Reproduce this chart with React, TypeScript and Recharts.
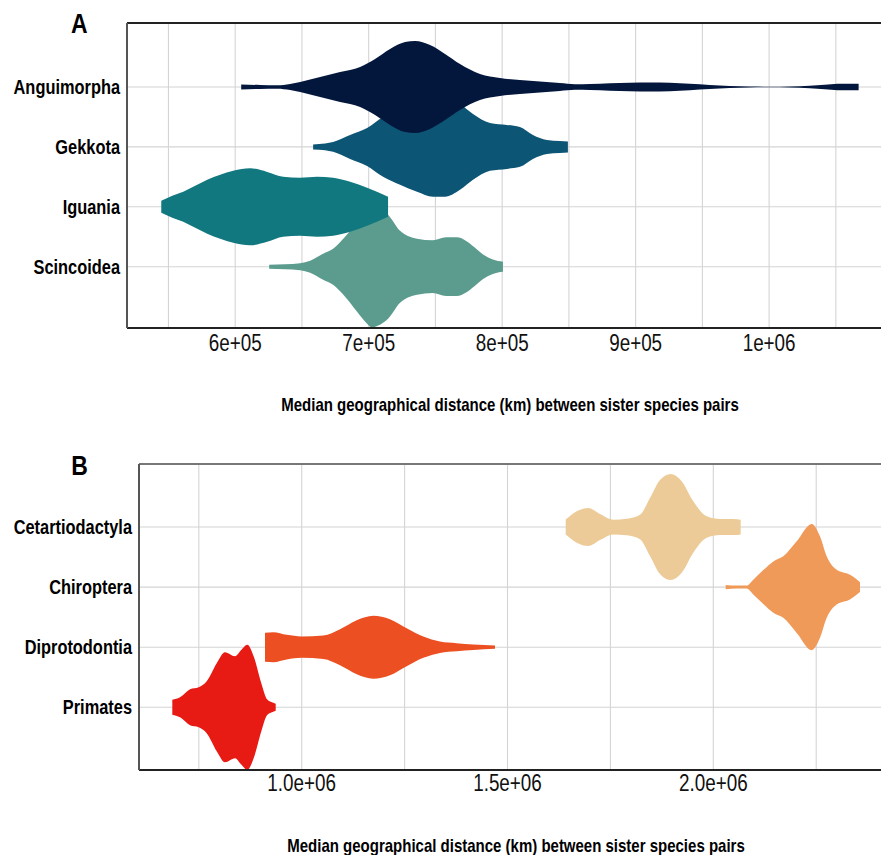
import React from 'react';
import { ComposedChart, Area, XAxis, YAxis, CartesianGrid, ReferenceLine } from 'recharts';

const FONT = '"Liberation Sans", Arial, sans-serif';
const NARROW = 0.82; // horizontal condensing to imitate Arial Narrow
const AXIS_TITLE = 'Median geographical distance (km) between sister species pairs';

// ---------- Panel A (lizards) ----------
const lizardGroups = ['Anguimorpha', 'Gekkota', 'Iguania', 'Scincoidea']; // top to bottom
const lizardColors = ['#03173d', '#0d5575', '#117880', '#5b9c8e'];

const anguimorphaX = [604491, 618713, 631437, 641168, 648653, 663623, 678593, 693563, 704790, 716018, 727245, 734730, 745958, 757185, 768413, 783383, 798353, 813323, 828293, 843263, 854490, 865718, 880688, 895658, 910628, 925598, 940568, 955538, 970508, 985478, 1000448, 1015418, 1030388, 1041615, 1051346, 1060328, 1067064];
const anguimorphaW = [0.042, 0.033, 0.028, 0.05, 0.083, 0.167, 0.25, 0.333, 0.467, 0.633, 0.75, 0.767, 0.7, 0.55, 0.383, 0.217, 0.15, 0.117, 0.092, 0.067, 0.047, 0.05, 0.063, 0.072, 0.075, 0.07, 0.053, 0.033, 0.015, 0.007, 0.005, 0.008, 0.02, 0.037, 0.053, 0.055, 0.053];

const gekkotaX = [658383, 667365, 673353, 686078, 698802, 710778, 723503, 736227, 748203, 757185, 768413, 778143, 790868, 803592, 813323, 823053, 833532, 843263, 849251];
const gekkotaW = [0.042, 0.058, 0.083, 0.2, 0.317, 0.5, 0.633, 0.75, 0.833, 0.833, 0.717, 0.55, 0.4, 0.367, 0.333, 0.2, 0.117, 0.1, 0.092];

const iguaniaX = [544611, 552845, 561078, 570060, 579042, 588773, 598503, 611228, 623952, 635928, 648653, 661377, 673353, 686078, 698802, 707036, 714521];
const iguaniaW = [0.1, 0.183, 0.25, 0.35, 0.45, 0.533, 0.6, 0.642, 0.583, 0.5, 0.483, 0.5, 0.483, 0.417, 0.317, 0.242, 0.167];

const scincoideaX = [625449, 637425, 648653, 656138, 665868, 673353, 682335, 691317, 698802, 702545, 707036, 714521, 723503, 736227, 748000, 758000, 766000, 773000, 779000, 786000, 793000, 800598];
const scincoideaW = [0.033, 0.042, 0.058, 0.1, 0.217, 0.3, 0.5, 0.75, 0.95, 1.017, 0.983, 0.867, 0.6, 0.467, 0.44, 0.49, 0.49, 0.43, 0.33, 0.2, 0.12, 0.083];

const lizardTicks = [600000, 700000, 800000, 900000, 1000000];
const lizardTickLabels = ['6e+05', '7e+05', '8e+05', '9e+05', '1e+06'];
const lizardMinor = [550000, 650000, 750000, 850000, 950000, 1050000];
const lizardDomainX = [518937, 1092814];
const lizardDomainY = [-0.023, 5.068];

// ---------- Panel B (mammals) ----------
const mammalGroups = ['Cetartiodactyla', 'Chiroptera', 'Diprotodontia', 'Primates']; // top to bottom
const mammalColors = ['#edcb98', '#f09a5a', '#ec5022', '#e81a14'];

const cetartiodactylaX = [1641388, 1668112, 1696294, 1724719, 1757031, 1789588, 1821900, 1846195, 1870490, 1896486, 1923210, 1951392, 1983947, 2016260, 2048572, 2066551];
const cetartiodactylaW = [0.125, 0.262, 0.317, 0.217, 0.122, 0.138, 0.205, 0.483, 0.783, 0.883, 0.762, 0.428, 0.178, 0.133, 0.133, 0.122];

const chiropteraX = [2030100, 2056824, 2081119, 2097153, 2121448, 2145743, 2170038, 2202593, 2239035, 2259210, 2275488, 2299783, 2332095, 2356390];
const chiropteraW = [0.037, 0.025, 0.025, 0.122, 0.283, 0.428, 0.512, 0.762, 1.05, 0.845, 0.512, 0.288, 0.205, 0.083];

const diprotodontiaX = [910838, 931000, 963557, 1000000, 1052477, 1093050, 1133622, 1173951, 1214525, 1255098, 1295427, 1336000, 1376573, 1416902, 1469617];
const diprotodontiaW = [0.242, 0.25, 0.205, 0.178, 0.195, 0.3, 0.45, 0.525, 0.467, 0.317, 0.178, 0.095, 0.067, 0.045, 0.028];

const primatesX = [685623, 704330, 728625, 749761, 769197, 793492, 813657, 837952, 852529, 867835, 884113, 901119, 915696, 927844, 936833];
const primatesW = [0.125, 0.167, 0.3, 0.333, 0.433, 0.733, 0.917, 0.85, 0.95, 1.042, 0.833, 0.417, 0.133, 0.083, 0.058];

const mammalTicks = [1000000, 1500000, 2000000];
const mammalTickLabels = ['1.0e+06', '1.5e+06', '2.0e+06'];
const mammalMinor = [750000, 1250000, 1750000, 2250000];
const mammalDomainX = [604713, 2436581];
const mammalDomainY = [-0.045, 5.05];

type Violin = { name: string; color: string; xs: number[]; ws: number[] };

const lizardViolins: Violin[] = [
  { name: lizardGroups[0], color: lizardColors[0], xs: anguimorphaX, ws: anguimorphaW },
  { name: lizardGroups[1], color: lizardColors[1], xs: gekkotaX, ws: gekkotaW },
  { name: lizardGroups[2], color: lizardColors[2], xs: iguaniaX, ws: iguaniaW },
  { name: lizardGroups[3], color: lizardColors[3], xs: scincoideaX, ws: scincoideaW },
];

const mammalViolins: Violin[] = [
  { name: mammalGroups[0], color: mammalColors[0], xs: cetartiodactylaX, ws: cetartiodactylaW },
  { name: mammalGroups[1], color: mammalColors[1], xs: chiropteraX, ws: chiropteraW },
  { name: mammalGroups[2], color: mammalColors[2], xs: diprotodontiaX, ws: diprotodontiaW },
  { name: mammalGroups[3], color: mammalColors[3], xs: primatesX, ws: primatesW },
];

function buildRows(v: Violin, center: number) {
  return v.xs.map((x, i) => ({ x, r: [center - v.ws[i], center + v.ws[i]] }));
}

function NarrowText(props: {
  x: number;
  y: number;
  text: string;
  anchor: 'start' | 'middle' | 'end';
  dy?: string;
  size: number;
  bold?: boolean;
  fill?: string;
}) {
  return (
    <g transform={`translate(${props.x},${props.y})`}>
      <text
        x={0}
        y={0}
        dy={props.dy}
        textAnchor={props.anchor}
        transform={`scale(${NARROW},1)`}
        fontFamily={FONT}
        fontSize={props.size}
        fontWeight={props.bold ? 'bold' : 'normal'}
        fill={props.fill || '#000'}
      >
        {props.text}
      </text>
    </g>
  );
}

type PanelProps = {
  violins: Violin[];
  groups: string[];
  ticks: number[];
  tickLabels: string[];
  minor: number[];
  domainX: number[];
  domainY: number[];
  height: number;
  marginTop: number;
  yAxisWidth: number;
  xAxisHeight: number;
  tickMargin: number;
  topStroke: string;
};

function Panel(p: PanelProps) {
  const n = p.groups.length;
  const yTicks = p.groups.map((_, i) => n - i);
  const xLabel = (v: number) => {
    const i = p.ticks.indexOf(v);
    return i >= 0 ? p.tickLabels[i] : String(v);
  };
  // draw bottom group first so that upper groups overlap lower ones
  const order = p.violins.map((v, i) => ({ v, center: n - i })).reverse();
  const gridX = [...p.ticks, ...p.minor].sort((a, b) => a - b);
  return (
    <ComposedChart
      width={893}
      height={p.height}
      margin={{ top: p.marginTop, right: 0, bottom: 0, left: 0 }}
    >
      <CartesianGrid
        stroke="#d4d4d4"
        strokeWidth={1.1}
        verticalValues={gridX}
        horizontalValues={yTicks}
      />
      <XAxis
        dataKey="x"
        type="number"
        domain={p.domainX}
        allowDataOverflow
        ticks={p.ticks}
        tickLine={false}
        tickSize={0}
        tickMargin={p.tickMargin}
        height={p.xAxisHeight}
        axisLine={{ stroke: '#222', strokeWidth: 2 }}
        tick={(t: any) => (
          <NarrowText x={t.x} y={t.y} text={xLabel(t.payload.value)} anchor="middle" dy="0.71em" size={23} fill="#111" />
        )}
      />
      <YAxis
        type="number"
        domain={p.domainY}
        allowDataOverflow
        ticks={yTicks}
        tickLine={false}
        tickSize={0}
        tickMargin={7}
        width={p.yAxisWidth}
        axisLine={{ stroke: '#555', strokeWidth: 2 }}
        tick={(t: any) => (
          <NarrowText x={t.x} y={t.y} text={p.groups[n - t.payload.value]} anchor="end" dy="0.355em" size={20} bold />
        )}
      />
      {order.map(({ v, center }) => (
        <Area
          key={v.name}
          name={v.name}
          data={buildRows(v, center)}
          dataKey="r"
          type="monotone"
          fill={v.color}
          fillOpacity={1}
          stroke="none"
          isAnimationActive={false}
          dot={false}
          activeDot={false}
        />
      ))}
      <ReferenceLine y={p.domainY[1]} stroke={p.topStroke} strokeWidth={2} />
    </ComposedChart>
  );
}

export default function App() {
  return (
    <div
      style={{
        position: 'absolute',
        left: 0,
        top: 0,
        width: 881,
        height: 855,
        overflow: 'hidden',
        background: '#fff',
      }}
    >
      <div style={{ position: 'absolute', left: 0, top: 0 }}>
        <Panel
          violins={lizardViolins}
          groups={lizardGroups}
          ticks={lizardTicks}
          tickLabels={lizardTickLabels}
          minor={lizardMinor}
          domainX={lizardDomainX}
          domainY={lizardDomainY}
          height={430}
          marginTop={23}
          yAxisWidth={127}
          xAxisHeight={102}
          tickMargin={7}
          topStroke="#222"
        />
      </div>
      <div style={{ position: 'absolute', left: 0, top: 440 }}>
        <Panel
          violins={mammalViolins}
          groups={mammalGroups}
          ticks={mammalTicks}
          tickLabels={mammalTickLabels}
          minor={mammalMinor}
          domainX={mammalDomainX}
          domainY={mammalDomainY}
          height={415}
          marginTop={24}
          yAxisWidth={139}
          xAxisHeight={85}
          tickMargin={5}
          topStroke="#777"
        />
      </div>
      <svg
        width={881}
        height={855}
        style={{ position: 'absolute', left: 0, top: 0, pointerEvents: 'none' }}
      >
        <NarrowText x={79.4} y={33.3} text="A" anchor="middle" size={28} bold />
        <NarrowText x={79.5} y={475} text="B" anchor="middle" size={28} bold />
        <NarrowText x={510} y={410.7} text={AXIS_TITLE} anchor="middle" size={18.3} bold />
        <NarrowText x={516} y={851.7} text={AXIS_TITLE} anchor="middle" size={18.3} bold />
      </svg>
    </div>
  );
}
